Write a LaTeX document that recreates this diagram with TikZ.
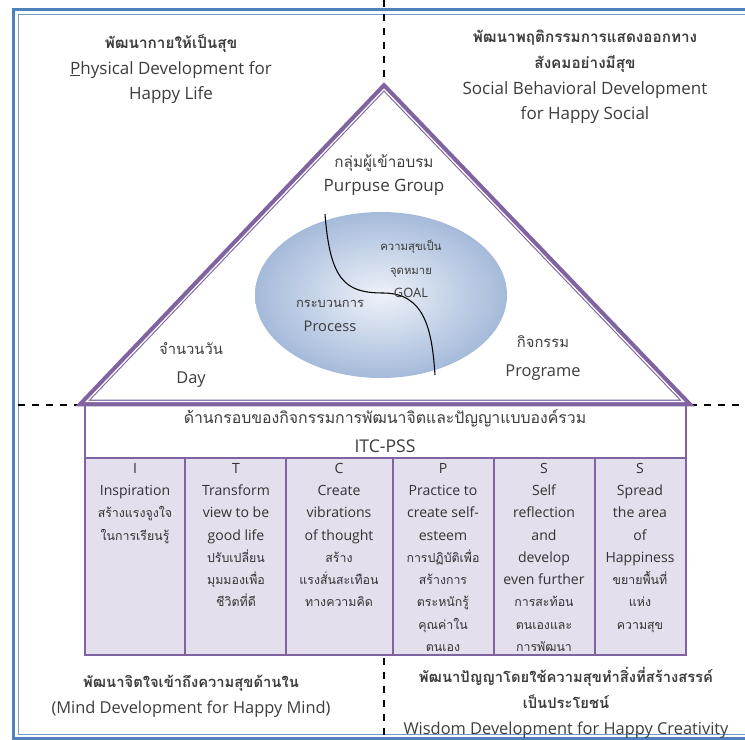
\documentclass[tikz,border=0pt]{standalone}
\usepackage{fontspec}
\setmainfont{Open Sans}
\newfontfamily\thaifont[Script=Thai,Scale=0.9]{Loma}
\newfontfamily\thaicolfont[Script=Thai,Scale=0.88]{Loma}
\usetikzlibrary{positioning,calc}
\definecolor{triPurple}{RGB}{128,100,162}
\definecolor{colFill}{RGB}{228,223,236}
\definecolor{frameBlue}{RGB}{79,129,189}
\definecolor{txtGray}{RGB}{60,60,60}
\definecolor{ballIn}{RGB}{238,242,249}
\definecolor{ballOut}{RGB}{165,186,218}
\newcommand\thaitxt[1]{{\thaifont #1}}
\newcommand\thaibf[1]{{\thaifont\bfseries #1}}
\newcommand\thaicol[1]{{\thaicolfont #1}}

\begin{document}
\begin{tikzpicture}[x=0.03cm,y=-0.03cm,
  txt/.style={align=center, text=txtGray, inner sep=0pt, font=\fontsize{14.5}{22}\selectfont},
  coltxt/.style={txt, anchor=north, text=black!80, font=\fontsize{12}{19}\selectfont},
  dashline/.style={black, line width=1.7pt, dash pattern=on 6pt off 6pt},
]
\useasboundingbox (0,0) rectangle (745,740);
\begin{scope}
\clip (0,0) rectangle (745,740);
\draw [frameBlue, line width=2.8pt] (13.5,9.5) rectangle (760,738.5);
\draw [frameBlue!80, line width=0.8pt] (18.5,14.5) rectangle (755,734);
\draw [dashline] (384,0) -- (384,84);
\draw [dashline] (384,658) -- (384,740);
\draw [dashline] (18,405) -- (80,405);
\draw [dashline] (690,405) -- (745,405);
\end{scope}

\draw [triPurple, line width=1.2pt, fill=white] (85,405) rectangle (686,458);
\foreach \xa/\xb in {85/185,185/286,286/393,393/494,494/595,595/686}
  \draw [triPurple, line width=1.2pt, fill=colFill] (\xa,458) rectangle (\xb,655);

\coordinate (apex) at (384,87);
\coordinate (baseR) at (687,403);
\coordinate (baseL) at (83,403);
\coordinate (inc) at (384.3,273.9);
\draw [triPurple, line width=5.6pt, line join=miter] (apex) -- (baseR) -- (baseL) -- cycle;
\draw [white, line width=1.1pt, line join=miter] ($(inc)!0.988!(apex)$) -- ($(inc)!0.988!(baseR)$)
  -- ($(inc)!0.988!(baseL)$) -- cycle;

\shade [inner color=ballIn, outer color=ballOut] (381,295) ellipse [x radius=126, y radius=83];
\coordinate (sTop) at (325,214);
\coordinate (sBot) at (435,375);
\draw [black, line width=0.9pt] (sTop) .. controls (330,280) and (345,293) .. (383,293)
  .. controls (425,293) and (432,330) .. (sBot);

\node [txt] (physical) at (171,69) {\thaibf{พัฒนากายให้เป็นสุข}\\\underline{P}hysical Development for\\Happy Life};
\node [txt] (social) at (585,77) {\thaibf{พัฒนาพฤติกรรมการแสดงออกทาง}\\\thaibf{สังคมอย่างมีสุข}\\Social Behavioral Development\\for Happy Social};
\node [txt, font=\fontsize{14.5}{21}\selectfont] (group) at (384,175) {\thaitxt{กลุ่มผู้เข้าอบรม}\\Purpuse Group};
\node [txt, font=\fontsize{11}{20}\selectfont] (goal) at (411,269) {\thaicol{ความสุขเป็น}\\\thaicol{จุดหมาย}\\GOAL};
\node [txt, font=\fontsize{12.5}{21}\selectfont] (process) at (330,316) {\thaicol{กระบวนการ}\\Process};
\node [txt, font=\fontsize{14}{25}\selectfont] (day) at (191,365) {\thaitxt{จำนวนวัน}\\Day};
\node [txt, font=\fontsize{14}{24}\selectfont] (program) at (543,358) {\thaitxt{กิจกรรม}\\Programe};

\node [txt, font=\fontsize{15}{25}\selectfont] (frame) at (385,431) {\thaitxt{ด้านกรอบของกิจกรรมการพัฒนาจิตและปัญญาแบบองค์รวม}\\ITC-PSS};

\node [coltxt] (colI) at (135,463) {I\\Inspiration\\\thaicol{สร้างแรงจูงใจ}\\\thaicol{ในการเรียนรู้}};
\node [coltxt] (colT) at (236,463) {T\\Transform\\view to be\\good life\\\thaicol{ปรับเปลี่ยน}\\\thaicol{มุมมองเพื่อ}\\\thaicol{ชีวิตที่ดี}};
\node [coltxt] (colC) at (339,463) {C\\Create\\vibrations\\of thought\\\thaicol{สร้าง}\\\thaicol{แรงสั่นสะเทือน}\\\thaicol{ทางความคิด}};
\node [coltxt] (colP) at (443,463) {P\\Practice to\\create self-\\esteem\\\thaicol{การปฏิบัติเพื่อ}\\\thaicol{สร้างการ}\\\thaicol{ตระหนักรู้}\\\thaicol{คุณค่าใน}\\\thaicol{ตนเอง}};
\node [coltxt] (colS) at (544,463) {S\\Self\\reflection\\and\\develop\\even further\\\thaicol{การสะท้อน}\\\thaicol{ตนเองและ}\\\thaicol{การพัฒนา}};
\node [coltxt] (colSS) at (640,463) {S\\Spread\\the area\\of\\Happiness\\\thaicol{ขยายพื้นที่}\\\thaicol{แห่ง}\\\thaicol{ความสุข}};

\node [txt, font=\fontsize{14}{22}\selectfont] (mind) at (191,696) {\thaibf{พัฒนาจิตใจเข้าถึงความสุขด้านใน}\\(Mind Development for Happy Mind)};
\node [txt, font=\fontsize{14}{22}\selectfont] (wisdom) at (566,703) {\thaibf{พัฒนาปัญญาโดยใช้ความสุขทำสิ่งที่สร้างสรรค์}\\\thaibf{เป็นประโยชน์}\\Wisdom Development for Happy Creativity};
\end{tikzpicture}
\end{document}
